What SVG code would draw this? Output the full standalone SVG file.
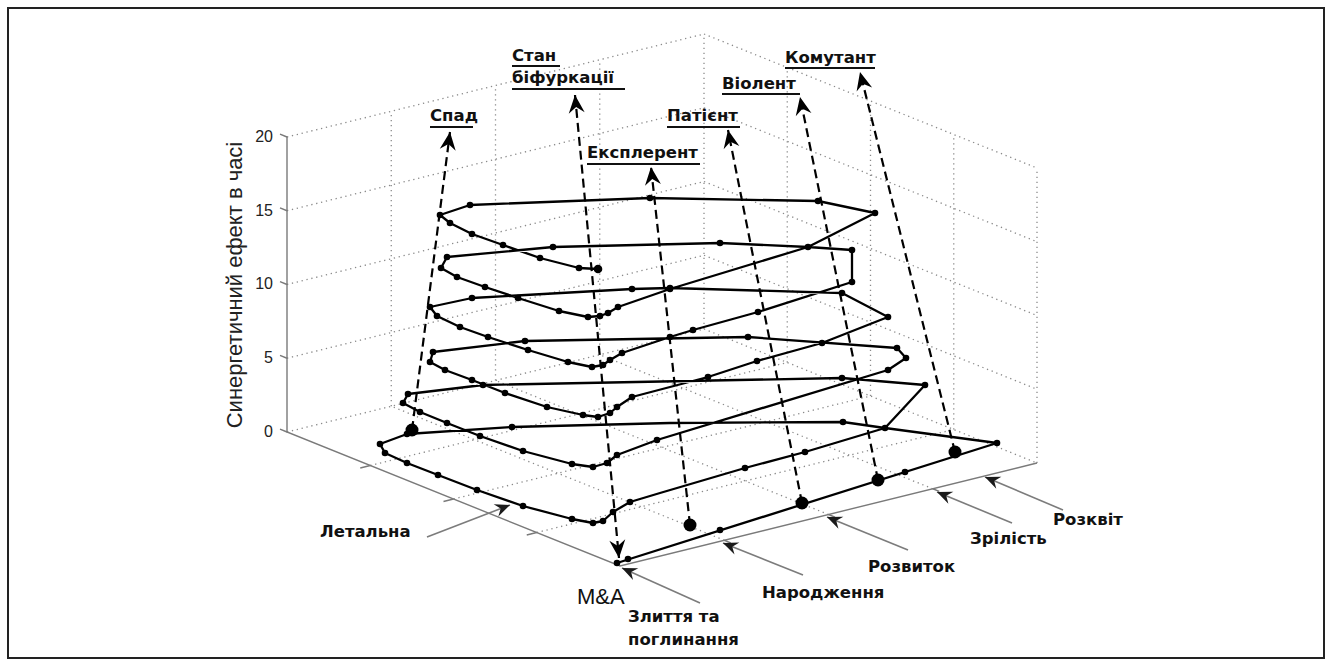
<svg xmlns="http://www.w3.org/2000/svg" width="1332" height="666" viewBox="0 0 1332 666">
<defs>
<style>
.grid{stroke:#8a8a8a;stroke-width:1.3;stroke-dasharray:1.3 3.7;fill:none}
.axis{stroke:#7a7a7a;stroke-width:1.4;fill:none}
.curve{stroke:#000;stroke-width:2.3;fill:none;stroke-linejoin:round}
.d{fill:#000}
.big{fill:#000}
.dash{stroke:#000;stroke-width:2.2;stroke-dasharray:9 5;fill:none}
.garr{stroke:#7c7c7c;stroke-width:1.6;fill:none}
.lbl{font-family:"DejaVu Sans","Liberation Sans",sans-serif;font-weight:bold;font-size:16.5px;fill:#111}
.ul{stroke:#111;stroke-width:2}
.tick{font-family:"Liberation Sans",Arial,sans-serif;font-size:16px;fill:#222}
</style>
<marker id="ah" viewBox="-20 -10 22 20" markerWidth="22" markerHeight="20" refX="0" refY="0" orient="auto" markerUnits="userSpaceOnUse"><path d="M0,0 L-18,-8 L-12,0 L-18,8 Z" fill="#000"/></marker>
<marker id="ah2" viewBox="-20 -10 22 20" markerWidth="22" markerHeight="20" refX="0" refY="0" orient="auto-start-reverse" markerUnits="userSpaceOnUse"><path d="M0,0 L-18,-8 L-12,0 L-18,8 Z" fill="#000"/></marker>
<marker id="ga" viewBox="-18 -9 20 18" markerWidth="20" markerHeight="18" refX="0" refY="0" orient="auto" markerUnits="userSpaceOnUse"><path d="M0,0 L-15,-6.5 L-10,0 L-15,6.5 Z" fill="#1a1a1a"/></marker>
</defs>
<rect x="0" y="0" width="1332" height="666" fill="#fff"/>
<rect x="8" y="8" width="1316" height="650" fill="none" stroke="#222" stroke-width="2"/>

<g id="grid">
<path class="grid" d="M287,358.25 L704,255.25 M287,284.5 L704,181.5 M287,210.75 L704,107.75 M287,137 L704,34 M287,432 L704,329
M704,329 L1037,463 M704,255.25 L1037,389.25 M704,181.5 L1037,315.5 M704,107.75 L1037,241.75 M704,34 L1037,168
M391.25,406.25 V111.25 M495.5,380.5 V85.5 M599.75,354.75 V59.75 M704,329 V34
M787.25,362.5 V67.5 M870.5,396 V101 M953.75,429.5 V134.5 M1037,463 V168
M370.25,465.5 L787.25,362.5 M453.5,499 L870.5,396 M536.75,532.5 L953.75,429.5
M724.25,540.25 L391.25,406.25 M828.5,514.5 L495.5,380.5 M932.75,488.75 L599.75,354.75"/>
</g>

<g id="axes">
<path class="axis" d="M287,137 V432 L620,566 L1037,463"/>
<path class="axis" d="M287,432 l-7,-2.8 M287,358.25 l-7,-2.8 M287,284.5 l-7,-2.8 M287,210.75 l-7,-2.8 M287,137 l-7,-2.8
M370.25,465.5 l-10,2.5 M453.5,499 l-10,2.5 M536.75,532.5 l-10,2.5
M724.25,540.25 l6.5,2.6 M828.5,514.5 l6.5,2.6 M932.75,488.75 l6.5,2.6"/>
<text class="tick" x="273" y="437" text-anchor="end">0</text>
<text class="tick" x="273" y="363" text-anchor="end">5</text>
<text class="tick" x="273" y="289" text-anchor="end">10</text>
<text class="tick" x="273" y="216" text-anchor="end">15</text>
<text class="tick" x="273" y="142" text-anchor="end">20</text>
<text transform="translate(242,285) rotate(-90)" text-anchor="middle" font-family="Liberation Sans, Arial, sans-serif" font-size="22" fill="#222">Синергетичний ефект в часі</text>
</g>

<g id="curve">
<path class="curve" d="M617,563 L997,443 L885,428 L843,422 L670,423 L512,427 L407,434 L380,444 L385,453 L407,463 L438,475 L477,490 L523,506 L572,519 L593,523 L603,521 L613,512 L630,502 L660,493 L745,468 L805,452 L885,428 L925,385 L842,378 L483,385 L408,394 L403,403 L420,412 L447,423 L480,436 L523,451 L572,464 L593,467 L607,463 L617,455 L657,440 L888,370 L906,358 L897,348 L748,337 L525,341 L433,352 L430,362 L445,370 L472,380 L505,393 L547,407 L583,415 L598,417 L610,413 L617,407 L632,397 L708,377 L757,361 L822,343 L888,317 L842,293 L670,288 L632,289 L472,298 L430,307 L437,316 L460,327 L488,337 L528,350 L568,362 L592,367 L603,365 L610,360 L622,353 L670,337 L693,330 L758,312 L852,282 L852,250 L808,247 L720,243 L553,247 L447,257 L441,268 L457,277 L485,287 L518,298 L559,311 L588,317 L600,316 L608,313 L618,307 L670,289 L808,247 L875,213 L818,201 L650,198 L470,205 L440,215 L450,223 L472,234 L503,245 L540,258 L579,268 L598,269"/>
<g class="d">
<circle cx="617" cy="563" r="3.3"/><circle cx="628" cy="559" r="3.3"/><circle cx="720" cy="530" r="3.3"/><circle cx="905" cy="472" r="3.3"/><circle cx="997" cy="443" r="3.3"/>
<circle cx="885" cy="428" r="3.3"/><circle cx="843" cy="422" r="3.3"/><circle cx="512" cy="427" r="3.3"/><circle cx="407" cy="434" r="3.3"/><circle cx="380" cy="444" r="3.3"/>
<circle cx="385" cy="453" r="3.3"/><circle cx="407" cy="463" r="3.3"/><circle cx="438" cy="475" r="3.3"/><circle cx="477" cy="490" r="3.3"/><circle cx="523" cy="506" r="3.3"/><circle cx="572" cy="519" r="3.3"/><circle cx="593" cy="523" r="3.3"/><circle cx="603" cy="521" r="3.3"/><circle cx="613" cy="512" r="3.3"/><circle cx="630" cy="502" r="3.3"/><circle cx="745" cy="468" r="3.3"/><circle cx="805" cy="452" r="3.3"/><circle cx="925" cy="385" r="3.3"/>
<circle cx="842" cy="378" r="3.3"/><circle cx="483" cy="385" r="3.3"/><circle cx="408" cy="394" r="3.3"/>
<circle cx="403" cy="403" r="3.3"/><circle cx="420" cy="412" r="3.3"/><circle cx="447" cy="423" r="3.3"/><circle cx="480" cy="436" r="3.3"/><circle cx="523" cy="451" r="3.3"/><circle cx="572" cy="464" r="3.3"/><circle cx="593" cy="467" r="3.3"/><circle cx="607" cy="463" r="3.3"/><circle cx="617" cy="455" r="3.3"/><circle cx="657" cy="440" r="3.3"/><circle cx="888" cy="370" r="3.3"/><circle cx="906" cy="358" r="3.3"/><circle cx="897" cy="348" r="3.3"/>
<circle cx="748" cy="337" r="3.3"/><circle cx="525" cy="341" r="3.3"/><circle cx="433" cy="352" r="3.3"/>
<circle cx="430" cy="362" r="3.3"/><circle cx="445" cy="370" r="3.3"/><circle cx="472" cy="380" r="3.3"/><circle cx="505" cy="393" r="3.3"/><circle cx="547" cy="407" r="3.3"/><circle cx="583" cy="415" r="3.3"/><circle cx="598" cy="417" r="3.3"/><circle cx="610" cy="413" r="3.3"/><circle cx="617" cy="407" r="3.3"/><circle cx="632" cy="397" r="3.3"/><circle cx="708" cy="377" r="3.3"/><circle cx="757" cy="361" r="3.3"/><circle cx="822" cy="343" r="3.3"/><circle cx="888" cy="317" r="3.3"/>
<circle cx="842" cy="293" r="3.3"/><circle cx="670" cy="288" r="3.3"/><circle cx="632" cy="289" r="3.3"/><circle cx="472" cy="298" r="3.3"/><circle cx="430" cy="307" r="3.3"/>
<circle cx="437" cy="316" r="3.3"/><circle cx="460" cy="327" r="3.3"/><circle cx="488" cy="337" r="3.3"/><circle cx="528" cy="350" r="3.3"/><circle cx="568" cy="362" r="3.3"/><circle cx="592" cy="367" r="3.3"/><circle cx="603" cy="365" r="3.3"/><circle cx="610" cy="360" r="3.3"/><circle cx="622" cy="353" r="3.3"/><circle cx="670" cy="337" r="3.3"/><circle cx="693" cy="330" r="3.3"/><circle cx="758" cy="312" r="3.3"/><circle cx="852" cy="282" r="3.3"/><circle cx="852" cy="250" r="3.3"/>
<circle cx="808" cy="247" r="3.3"/><circle cx="720" cy="243" r="3.3"/><circle cx="553" cy="247" r="3.3"/><circle cx="447" cy="257" r="3.3"/>
<circle cx="441" cy="268" r="3.3"/><circle cx="457" cy="277" r="3.3"/><circle cx="485" cy="287" r="3.3"/><circle cx="518" cy="298" r="3.3"/><circle cx="559" cy="311" r="3.3"/><circle cx="588" cy="317" r="3.3"/><circle cx="600" cy="316" r="3.3"/><circle cx="608" cy="313" r="3.3"/><circle cx="618" cy="307" r="3.3"/><circle cx="670" cy="289" r="3.3"/><circle cx="875" cy="213" r="3.3"/>
<circle cx="818" cy="201" r="3.3"/><circle cx="650" cy="198" r="3.3"/><circle cx="470" cy="205" r="3.3"/><circle cx="440" cy="215" r="3.3"/>
<circle cx="450" cy="223" r="3.3"/><circle cx="472" cy="234" r="3.3"/><circle cx="503" cy="245" r="3.3"/><circle cx="540" cy="258" r="3.3"/><circle cx="579" cy="268" r="3.3"/><circle cx="598" cy="269" r="4.3"/>
</g>
<g class="big">
<circle cx="412" cy="430" r="6.5"/><circle cx="690" cy="525" r="6.5"/><circle cx="802" cy="503" r="6.5"/><circle cx="878" cy="480" r="6.5"/><circle cx="955" cy="452" r="6.5"/>
</g>
</g>

<g id="connectors">
<line class="dash" x1="412" y1="430" x2="450" y2="132" marker-end="url(#ah)"/>
<line class="dash" x1="575" y1="95" x2="619" y2="558" marker-start="url(#ah2)" marker-end="url(#ah2)"/>
<line class="dash" x1="690" y1="525" x2="651" y2="167" marker-end="url(#ah)"/>
<line class="dash" x1="802" y1="503" x2="728" y2="130" marker-end="url(#ah)"/>
<line class="dash" x1="878" y1="480" x2="800" y2="97" marker-end="url(#ah)"/>
<line class="dash" x1="955" y1="452" x2="860" y2="72" marker-end="url(#ah)"/>
<line class="garr" x1="427" y1="537" x2="510" y2="505" marker-end="url(#ga)"/>
<line class="garr" x1="700" y1="603" x2="622" y2="568" marker-end="url(#ga)"/>
<line class="garr" x1="803" y1="575" x2="723" y2="543" marker-end="url(#ga)"/>
<line class="garr" x1="908" y1="550" x2="827" y2="517" marker-end="url(#ga)"/>
<line class="garr" x1="1012" y1="523" x2="937" y2="492" marker-end="url(#ga)"/>
<line class="garr" x1="1063" y1="510" x2="985" y2="477" marker-end="url(#ga)"/>
</g>

<g id="label-spad"><text class="lbl" x="430" y="121">Спад</text><line class="ul" x1="430" y1="127" x2="473" y2="127"/></g>
<g id="label-stan"><text class="lbl" x="512" y="61">Стан</text><line class="ul" x1="512" y1="66" x2="560" y2="66"/><text class="lbl" x="512" y="83">біфуркації</text><line class="ul" x1="512" y1="89" x2="625" y2="89"/></g>
<g id="label-eksplerent"><text class="lbl" x="587" y="158">Експлерент</text><line class="ul" x1="587" y1="164" x2="700" y2="164"/></g>
<g id="label-patient"><text class="lbl" x="667" y="121">Патієнт</text><line class="ul" x1="667" y1="127" x2="740" y2="127"/></g>
<g id="label-violent"><text class="lbl" x="722" y="89">Віолент</text><line class="ul" x1="722" y1="94" x2="800" y2="94"/></g>
<g id="label-komutant"><text class="lbl" x="785" y="63">Комутант</text><line class="ul" x1="785" y1="68" x2="875" y2="68"/></g>
<g id="label-letalna"><text class="lbl" x="320" y="537">Летальна</text></g>
<g id="label-ma"><text x="577" y="604" font-family="Liberation Sans, Arial, sans-serif" font-size="22" fill="#111">M&amp;A</text></g>
<g id="label-zlyttia"><text class="lbl" x="628" y="622">Злиття та</text><text class="lbl" x="628" y="645">поглинання</text></g>
<g id="label-narodzhennia"><text class="lbl" x="762" y="598">Народження</text></g>
<g id="label-rozvytok"><text class="lbl" x="868" y="572">Розвиток</text></g>
<g id="label-zrilist"><text class="lbl" x="970" y="544">Зрілість</text></g>
<g id="label-rozkvit"><text class="lbl" x="1053" y="525">Розквіт</text></g>
</svg>
